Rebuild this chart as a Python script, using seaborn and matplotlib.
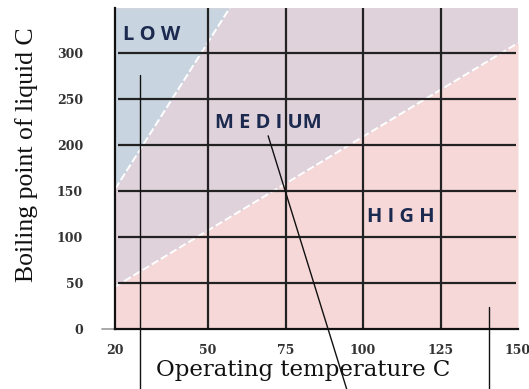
import numpy as np
import pandas as pd
import matplotlib
matplotlib.use("Agg")
import matplotlib.pyplot as plt
import seaborn as sns

# ---- data ----
x_ticks = [20, 50, 75, 100, 125, 150]
y_ticks = [0, 50, 100, 150, 200, 250, 300]
x_grid = [50, 75, 100, 125]
y_grid = [50, 100, 150, 200, 250, 300]

# boundary LOW / MEDIUM (temperature, boiling point)
low_temp = [20, 57]
low_boil = [152, 349]
# boundary MEDIUM / HIGH
high_temp = [20, 150]
high_boil = [46, 311]

zone_names = ["L O W", "M E D I UM", "H I G H"]
zone_temp = [22.5, 52.3, 101.3]
zone_boil = [320, 224, 122]

# leader lines (temperature, boiling point) start / end
leader_start = [(28.1, 276), (69.4, 210), (140.6, 24)]
leader_end = [(28.1, -66), (94.8, -66), (140.6, -66)]

XMIN, XMAX, YMIN, YMAX = 20, 150, 0, 349

C_LOW = "#c8d5e0"
C_MED = "#e0d2db"
C_HIGH = "#f7d8d8"
GRID = "#222222"
TXT = "#1c2a50"

sns.set_theme(style="white")
plt.rcParams["font.family"] = ["DejaVu Sans"]

fig = plt.figure(figsize=(5.29, 3.89), dpi=100)
ax = fig.add_axes([115 / 529, 60 / 389, 403 / 529, 321 / 389])
ax.set_facecolor(C_MED)

ax.fill_between(low_temp, low_boil, YMAX, color=C_LOW, lw=0, zorder=1)
ax.fill_between(high_temp, YMIN, high_boil, color=C_HIGH, lw=0, zorder=1)

bounds = pd.DataFrame({
    "temp": low_temp + high_temp,
    "boil": low_boil + high_boil,
    "edge": ["low"] * 2 + ["high"] * 2,
})
sns.lineplot(data=bounds, x="temp", y="boil", units="edge", estimator=None,
             color="white", lw=1.4, ax=ax, zorder=2, sort=False)
for ln in ax.lines:
    ln.set_dashes([4, 1.5])

ax.vlines(x_grid, YMIN, YMAX, color=GRID, lw=1.6, zorder=3)
ax.hlines(y_grid, 21, 149.4, color=GRID, lw=1.6, zorder=3)

for name, tx, ty in zip(zone_names, zone_temp, zone_boil):
    ax.text(tx, ty, name, ha="left", va="center", fontsize=14.5,
            fontweight="bold", color=TXT, family="Open Sans", zorder=5)

for (x0, y0), (x1, y1) in zip(leader_start, leader_end):
    ax.plot([x0, x1], [y0, y1], color="#111111", lw=1.0, clip_on=False, zorder=4)

# small left extension of the x axis
ax.plot([15.8, 20], [0, 0], color="#999999", lw=1.2, clip_on=False, zorder=4)

ax.set_xlim(XMIN, XMAX)
ax.set_ylim(YMIN, YMAX)
ax.set_xticks(x_ticks)
ax.set_yticks(y_ticks)
ax.set_xticklabels([str(v) for v in x_ticks], family="DejaVu Serif",
                   fontsize=9, fontweight="bold", color="#333333")
ax.set_yticklabels([str(v) for v in y_ticks], family="DejaVu Serif",
                   fontsize=9, fontweight="bold", color="#333333")
ax.tick_params(axis="x", length=0, pad=11)
ax.tick_params(axis="y", length=0, pad=23)

for s in ["top", "right"]:
    ax.spines[s].set_visible(False)
for s in ["left", "bottom"]:
    ax.spines[s].set_color("#111111")
    ax.spines[s].set_linewidth(1.6)
    ax.spines[s].set_zorder(6)

ax.set_xlabel("Operating temperature C", family="DejaVu Serif", fontsize=16.5,
              color="#111111")
ax.set_ylabel("Boiling point of liquid C", family="Liberation Serif",
              fontsize=18.5, color="#111111")
ax.xaxis.set_label_coords((303 - 115) / 403, -(370 - 329) / 321)
ax.yaxis.set_label_coords(-(115 - 27) / 403, (329 - 155) / 321)
ax.xaxis.label.set_va("center")
ax.yaxis.label.set_va("center")

fig.savefig("out.png", dpi=100)
